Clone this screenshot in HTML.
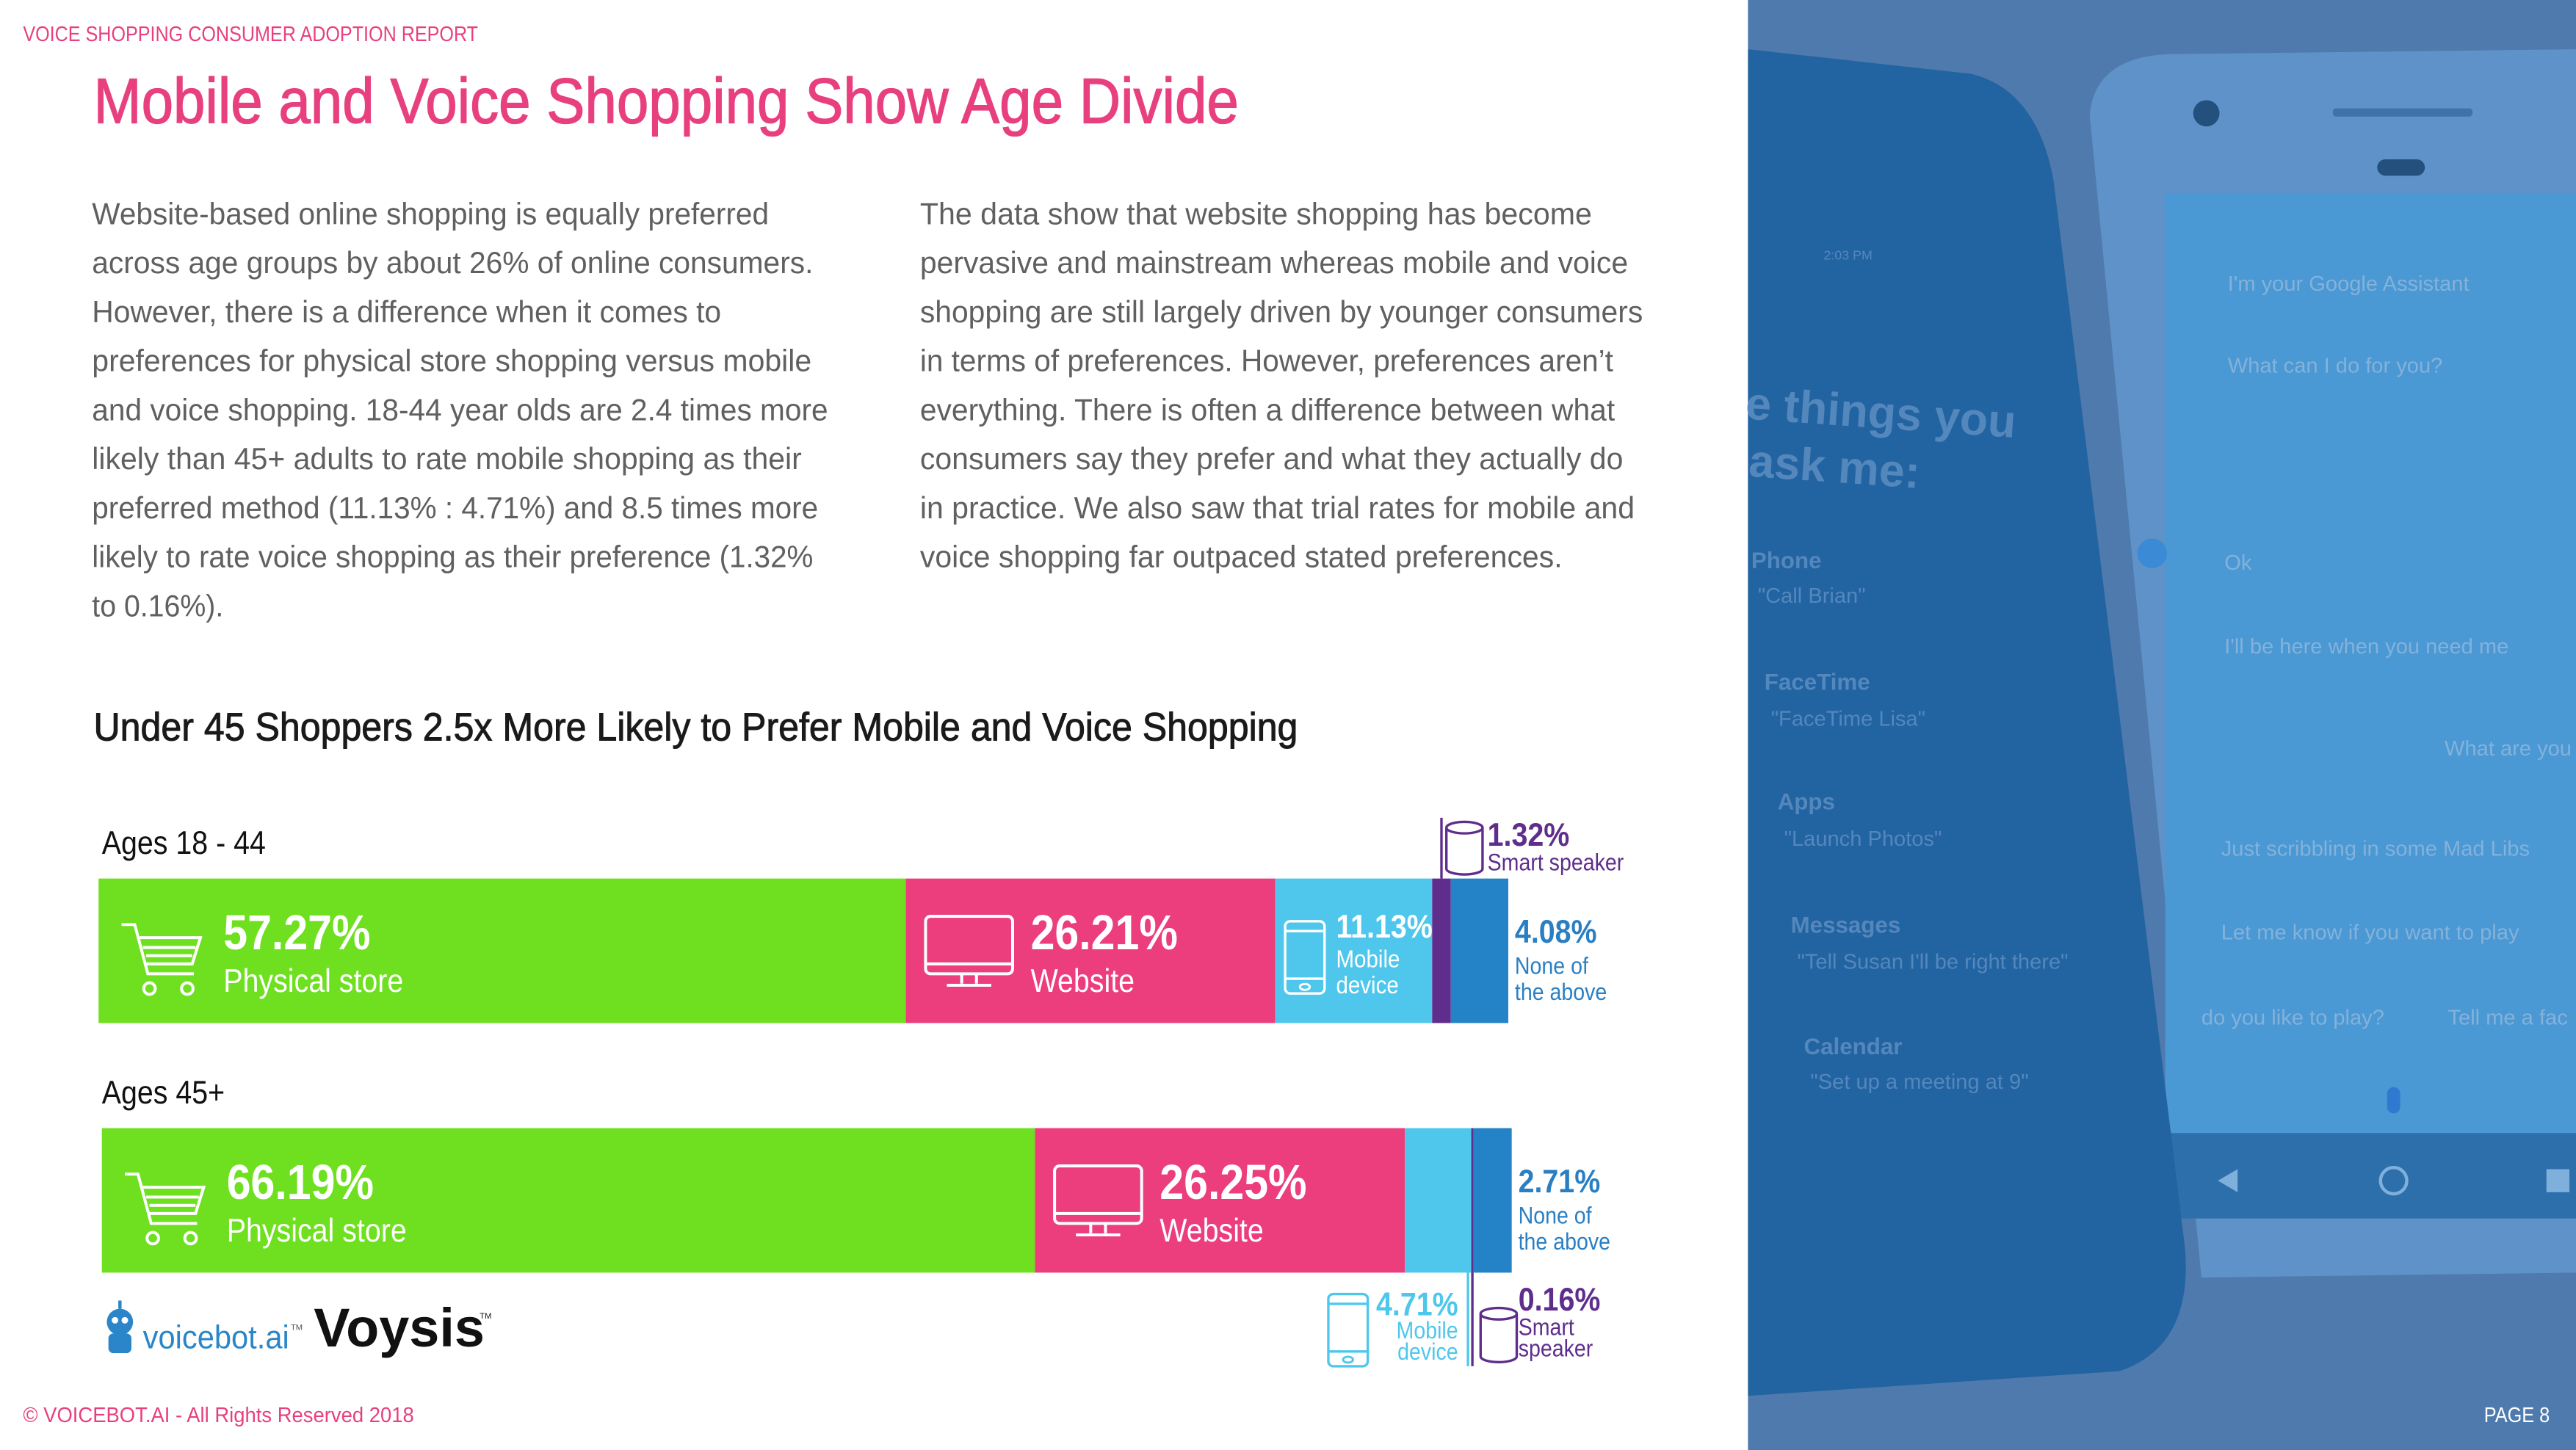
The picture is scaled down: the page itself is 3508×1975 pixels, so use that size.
<!DOCTYPE html>
<html><head><meta charset="utf-8"><style>
html,body{margin:0;padding:0;background:#fff;}
svg{display:block;}
text{font-family:"Liberation Sans",sans-serif;}
</style></head><body>
<svg id="page" xmlns="http://www.w3.org/2000/svg" width="3508" height="1975" viewBox="0 0 1568 883" preserveAspectRatio="none">
<rect x="0" y="0" width="1568" height="883" fill="#ffffff"/>
<text x="14" y="25" font-size="13" fill="#e8407f" textLength="277" lengthAdjust="spacingAndGlyphs">VOICE SHOPPING CONSUMER ADOPTION REPORT</text>
<text x="57" y="75" font-size="39" fill="#e8407f" stroke="#e8407f" stroke-width="0.6" textLength="697" lengthAdjust="spacingAndGlyphs">Mobile and Voice Shopping Show Age Divide</text>

<g font-size="18.5" fill="#606060">
<text x="56" y="136.5" textLength="412" lengthAdjust="spacingAndGlyphs">Website-based online shopping is equally preferred</text>
<text x="56" y="166.3" textLength="439" lengthAdjust="spacingAndGlyphs">across age groups by about 26% of online consumers.</text>
<text x="56" y="196.2" textLength="383" lengthAdjust="spacingAndGlyphs">However, there is a difference when it comes to</text>
<text x="56" y="226" textLength="438" lengthAdjust="spacingAndGlyphs">preferences for physical store shopping versus mobile</text>
<text x="56" y="255.9" textLength="448" lengthAdjust="spacingAndGlyphs">and voice shopping. 18-44 year olds are 2.4 times more</text>
<text x="56" y="285.7" textLength="432" lengthAdjust="spacingAndGlyphs">likely than 45+ adults to rate mobile shopping as their</text>
<text x="56" y="315.6" textLength="442" lengthAdjust="spacingAndGlyphs">preferred method (11.13% : 4.71%) and 8.5 times more</text>
<text x="56" y="345.4" textLength="439" lengthAdjust="spacingAndGlyphs">likely to rate voice shopping as their preference (1.32%</text>
<text x="56" y="375.3" textLength="80" lengthAdjust="spacingAndGlyphs">to 0.16%).</text>
</g>
<g font-size="18.5" fill="#606060">
<text x="560" y="136.5" textLength="409" lengthAdjust="spacingAndGlyphs">The data show that website shopping has become</text>
<text x="560" y="166.3" textLength="431" lengthAdjust="spacingAndGlyphs">pervasive and mainstream whereas mobile and voice</text>
<text x="560" y="196.2" textLength="440" lengthAdjust="spacingAndGlyphs">shopping are still largely driven by younger consumers</text>
<text x="560" y="226" textLength="422" lengthAdjust="spacingAndGlyphs">in terms of preferences. However, preferences aren’t</text>
<text x="560" y="255.9" textLength="423" lengthAdjust="spacingAndGlyphs">everything. There is often a difference between what</text>
<text x="560" y="285.7" textLength="428" lengthAdjust="spacingAndGlyphs">consumers say they prefer and what they actually do</text>
<text x="560" y="315.6" textLength="435" lengthAdjust="spacingAndGlyphs">in practice. We also saw that trial rates for mobile and</text>
<text x="560" y="345.4" textLength="391" lengthAdjust="spacingAndGlyphs">voice shopping far outpaced stated preferences.</text>
</g>

<text x="57" y="451" font-size="24" fill="#1a1a1a" stroke="#1a1a1a" stroke-width="0.45" textLength="733" lengthAdjust="spacingAndGlyphs">Under 45 Shoppers 2.5x More Likely to Prefer Mobile and Voice Shopping</text>

<g id="chart"></g>

<g>
<circle cx="73" cy="805" r="8" fill="#2a86c8"/>
<rect x="66" y="812" width="14" height="12" rx="3" fill="#2a86c8"/>
<circle cx="70" cy="804" r="2" fill="#fff"/><circle cx="76" cy="804" r="2" fill="#fff"/>
<line x1="73" y1="792" x2="73" y2="797" stroke="#2a86c8" stroke-width="2"/>
<text x="87" y="821" font-size="20" fill="#2a86c8" textLength="89" lengthAdjust="spacingAndGlyphs">voicebot.ai</text>
<text x="177" y="810" font-size="5" fill="#555">TM</text>
</g>
<g>
<text x="191" y="820" font-size="33" font-weight="bold" fill="#111" textLength="104" lengthAdjust="spacingAndGlyphs">Voysis</text>
<text x="292" y="803" font-size="5" fill="#111">TM</text>
</g>

<text x="14" y="866" font-size="13" fill="#e8407f" textLength="238" lengthAdjust="spacingAndGlyphs">© VOICEBOT.AI - All Rights Reserved 2018</text>

<g>
<rect x="1064" y="0" width="504" height="883" fill="#5479a8"/>
<rect x="1064" y="0" width="504" height="883" fill="#4d7bb0" opacity="0.6"/>
<path d="M1272 70 Q1275 35 1320 33 L1568 30 L1568 775 L1340 778 Z" fill="#5f92c8"/>
<rect x="1318" y="118" width="250" height="575" fill="#4a98d4"/>
<rect x="1318" y="690" width="250" height="52" fill="#2d6fab"/>
<circle cx="1343" cy="69" r="8" fill="#24507e"/>
<rect x="1420" y="66" width="85" height="5" rx="2" fill="#3f72a6"/>
<rect x="1447" y="97" width="29" height="10" rx="5" fill="#24507e"/>
<path d="M1064 30 L1200 45 Q1240 55 1250 110 L1330 760 Q1335 820 1290 835 L1064 850 Z" fill="#2263a1"/>
<g fill="#8fb7dc" opacity="0.85" font-size="13">
<text x="1356" y="177">I'm your Google Assistant</text>
<text x="1356" y="227">What can I do for you?</text>
<text x="1354" y="347">Ok</text>
<text x="1354" y="398">I'll be here when you need me</text>
<text x="1488" y="460">What are you</text>
<text x="1352" y="521">Just scribbling in some Mad Libs</text>
<text x="1352" y="572">Let me know if you want to play</text>
<text x="1340" y="624">do you like to play?</text>
<text x="1490" y="624">Tell me a fac</text>
</g>
<circle cx="1310" cy="337" r="9" fill="#3a8ad6"/>
<rect x="1453" y="662" width="8" height="16" rx="4" fill="#2f7ad0"/>
<circle cx="1457" cy="719" r="8" fill="none" stroke="#7fb0dc" stroke-width="2"/>
<path d="M1362 712 L1350 719 L1362 726 Z" fill="#7fb0dc"/>
<rect x="1550" y="712" width="14" height="14" fill="#7fb0dc"/>
<g fill="#5a8cc0" opacity="0.9">
<text x="1110" y="158" font-size="8">2:03 PM</text>
<text x="1062" y="255" font-size="28" font-weight="bold" transform="rotate(4 1062 255)">e things you</text>
<text x="1064" y="290" font-size="28" font-weight="bold" transform="rotate(4 1064 290)">ask me:</text>
<text x="1066" y="346" font-size="14" font-weight="bold">Phone</text>
<text x="1070" y="367" font-size="13">"Call Brian"</text>
<text x="1074" y="420" font-size="14" font-weight="bold">FaceTime</text>
<text x="1078" y="442" font-size="13">"FaceTime Lisa"</text>
<text x="1082" y="493" font-size="14" font-weight="bold">Apps</text>
<text x="1086" y="515" font-size="13">"Launch Photos"</text>
<text x="1090" y="568" font-size="14" font-weight="bold">Messages</text>
<text x="1094" y="590" font-size="13">"Tell Susan I'll be right there"</text>
<text x="1098" y="642" font-size="14" font-weight="bold">Calendar</text>
<text x="1102" y="663" font-size="13">"Set up a meeting at 9"</text>
</g>
<text x="1512" y="866" font-size="13" fill="#ffffff" textLength="40" lengthAdjust="spacingAndGlyphs">PAGE 8</text>
</g>
</svg>
<script>
const categories = ['Physical store','Website','Mobile device','Smart speaker','None of the above'];
const ageGroups = ['Ages 18 - 44','Ages 45+'];
const valuesUnder45 = [57.27, 26.21, 11.13, 1.32, 4.08];
const values45Plus = [66.19, 26.25, 4.71, 0.16, 2.71];
const seriesValues = [valuesUnder45, values45Plus];

const NS = 'http://www.w3.org/2000/svg';
const colors = ['#6ee01f','#ec3d7d','#4fc7ec','#5f2d8c','#2383c6'];
const chart = document.getElementById('chart');
const rowTop = [535, 687];
const rowX0 = [60, 62];
const BW = 858, BH = 88;
function xScale(r, v){ return rowX0[r] + v / 100 * BW; }
function el(tag, attrs, parent){
  const e = document.createElementNS(NS, tag);
  for (const k in attrs) e.setAttribute(k, attrs[k]);
  (parent || chart).appendChild(e);
  return e;
}
function txt(x, y, s, size, fill, weight, anchor, parent){
  const t = el('text', {x:x, y:y, 'font-size':size, fill:fill, 'font-weight':weight||'normal', 'text-anchor':anchor||'start', transform:'translate(' + x + ' ' + y + ') scale(0.88 1) translate(' + (-x) + ' ' + (-y) + ')'}, parent);
  t.textContent = s;
  return t;
}
function fmt(v){ return v.toFixed(2) + '%'; }
function cartIcon(x, y, g){
  el('path', {d:'M'+x+' '+(y+6)+' h8 l8 30 h28 M'+(x+11)+' '+(y+14)+' h37 l-5 16 h-29 M'+(x+13)+' '+(y+20)+' h32 M'+(x+15)+' '+(y+25)+' h28', fill:'none', stroke:'#fff', 'stroke-width':1.8}, g);
  el('circle', {cx:x+17, cy:y+45, r:3.5, fill:'none', stroke:'#fff', 'stroke-width':1.8}, g);
  el('circle', {cx:x+40, cy:y+45, r:3.5, fill:'none', stroke:'#fff', 'stroke-width':1.8}, g);
}
function monitorIcon(x, y, g){
  el('rect', {x:x, y:y, width:53, height:35, rx:3, fill:'none', stroke:'#fff', 'stroke-width':1.8}, g);
  el('path', {d:'M'+x+' '+(y+29)+' h53 M'+(x+22)+' '+(y+35)+' v6 M'+(x+31)+' '+(y+35)+' v6 M'+(x+13)+' '+(y+42)+' h27', fill:'none', stroke:'#fff', 'stroke-width':1.8}, g);
}
function phoneIcon(x, y, c, g){
  el('rect', {x:x, y:y, width:24, height:44, rx:3, fill:'none', stroke:c, 'stroke-width':1.5}, g);
  el('path', {d:'M'+x+' '+(y+6)+' h24 M'+x+' '+(y+35)+' h24', fill:'none', stroke:c, 'stroke-width':1.5}, g);
  el('ellipse', {cx:x+12, cy:y+40, rx:3, ry:1.8, fill:'none', stroke:c, 'stroke-width':1.3}, g);
}
function speakerIcon(x, y, h, g){
  el('path', {d:'M'+x+' '+(y+4)+' v'+(h-8)+' a11 3.5 0 0 0 22 0 v-'+(h-8)+' M'+x+' '+(y+4)+' a11 3.5 0 0 1 22 0 a11 3.5 0 0 1 -22 0', fill:'none', stroke:'#5f2d8c', 'stroke-width':1.5}, g);
}

ageGroups.forEach(function(name, r){
  const label = txt(62, rowTop[r] - 15, name, 20, '#111', 'normal', 'start');
  
  
  const vals = seriesValues[r];
  let acc = 0;
  vals.forEach(function(v, i){
    const s = xScale(r, acc), e = xScale(r, acc + v);
    acc += v;
    const g = el('g', {});
    
    
    const rect = el('rect', {x:s, y:rowTop[r], width:Math.max(e - s, 0.5), height:BH, fill:colors[i]}, g);
    
    
    const y0 = rowTop[r], yb = rowTop[r] + BH;
    const w = e - s;
    if (i < 2 && w > 150) {
      if (i === 0) cartIcon(s + 14, y0 + 22, g); else monitorIcon(s + 12, y0 + 23, g);
      const vt = txt(s + 76, y0 + 43, fmt(v), 30, '#fff', 'bold', 'start', g);
      
      
      txt(s + 76, y0 + 69, categories[i], 20, '#fff', 'normal', 'start', g);
    } else if (i === 2 && w > 60) {
      phoneIcon(s + 6, y0 + 26, '#fff', g);
      const vt = txt(s + 37, y0 + 36, fmt(v), 20, '#fff', 'bold', 'start', g);
      
      
      txt(s + 37, y0 + 54, 'Mobile', 15, '#fff', 'normal', 'start', g);
      txt(s + 37, y0 + 70, 'device', 15, '#fff', 'normal', 'start', g);
    } else if (i === 2) {
      const lx = e - 2;
      el('line', {x1:lx, y1:yb, x2:lx, y2:yb + 57, stroke:'#4fc7ec', 'stroke-width':1.5}, g);
      phoneIcon(lx - 85, yb + 13, '#4fc7ec', g);
      const vt = txt(lx - 6, yb + 26, fmt(v), 20, '#4fc7ec', 'bold', 'end', g);
      
      
      txt(lx - 6, yb + 40, 'Mobile', 14.5, '#4fc7ec', 'normal', 'end', g);
      txt(lx - 6, yb + 53, 'device', 14.5, '#4fc7ec', 'normal', 'end', g);
    } else if (i === 3 && r === 0) {
      const lx = (s + e) / 2;
      el('line', {x1:lx, y1:y0 - 37, x2:lx, y2:y0, stroke:'#5f2d8c', 'stroke-width':1.5}, g);
      speakerIcon(lx + 3, y0 - 35, 33, g);
      const vt = txt(lx + 28, y0 - 20, fmt(v), 20, '#5f2d8c', 'bold', 'start', g);
      
      
      txt(lx + 28, y0 - 5, 'Smart speaker', 14.5, '#5f2d8c', 'normal', 'start', g);
    } else if (i === 3) {
      const lx = (s + e) / 2;
      el('line', {x1:lx, y1:yb, x2:lx, y2:yb + 57, stroke:'#5f2d8c', 'stroke-width':1.5}, g);
      speakerIcon(lx + 5, yb + 21, 34, g);
      const vt = txt(lx + 28, yb + 23, fmt(v), 20, '#5f2d8c', 'bold', 'start', g);
      
      
      txt(lx + 28, yb + 38, 'Smart', 14.5, '#5f2d8c', 'normal', 'start', g);
      txt(lx + 28, yb + 51, 'speaker', 14.5, '#5f2d8c', 'normal', 'start', g);
    } else {
      const vt = txt(e + 4, y0 + 39, fmt(v), 20, '#2a7fc3', 'bold', 'start', g);
      
      
      txt(e + 4, y0 + 58, 'None of', 14.5, '#2a7fc3', 'normal', 'start', g);
      txt(e + 4, y0 + 74, 'the above', 14.5, '#2a7fc3', 'normal', 'start', g);
    }
  });
});
</script>
</body></html>
